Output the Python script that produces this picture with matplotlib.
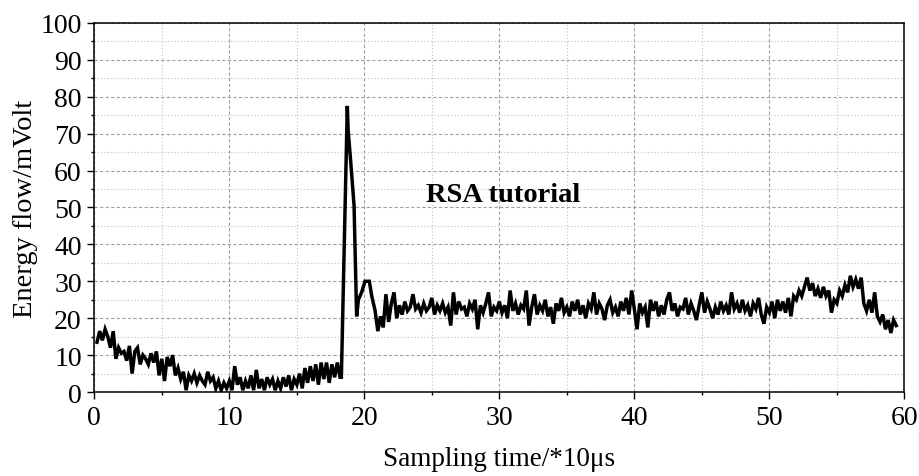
import numpy as np
import matplotlib.pyplot as plt
from matplotlib.ticker import MultipleLocator

plt.rcParams['font.family'] = ['Liberation Serif', 'DejaVu Serif']

# baseline before the pulse, sampled every 0.2 (x = 0.2 ... 18.2)
t_pre = np.round(np.arange(0.2, 18.21, 0.2), 1)
v_pre = [13.5, 16.5, 14, 17, 15,
         12, 16.5, 9, 12, 10.5,
         11, 8.5, 12.5, 5, 11,
         12, 7.5, 10, 9, 7.5,
         10.5, 8, 11, 4.5, 9,
         3, 9.5, 7, 10, 4.5,
         6.5, 3.5, 5.5, 0.5, 4.5,
         3, 5, 2.5, 4.5, 3,
         2, 5.5, 3, 4, 1,
         3, 0.5, 2.5, 1, 3,
         0.5, 7, 2, 4, 0.5,
         3, 1, 4.5, 0.5, 6,
         1, 3.5, 0.5, 4, 2,
         3.5, 0.5, 3, 1, 4,
         1.5, 4.5, 0.5, 3.5, 2,
         5, 1, 6.5, 2.5, 7,
         3, 7.5, 2, 8, 3.5,
         8, 2.5, 7.5, 4, 8,
         4]

# the pulse itself
t_peak = [18.3, 18.74, 18.8, 19.0, 19.24, 19.43, 19.56, 19.8, 20.05, 20.37, 20.55, 20.8]
v_peak = [4, 77.5, 71, 62, 50.5, 20.5, 25, 27, 30, 30, 26, 22]

# after the pulse, sampled every 0.2 (x = 21.0 ... 59.4)
t_post = np.round(np.arange(21.0, 59.41, 0.2), 1)
v_post = [16.5, 20.5, 17.5, 26.5, 19,
          24, 27, 20, 23.5, 21,
          24.5, 22, 23, 26.5, 22.5,
          23.5, 21.5, 24, 22, 23,
          25.5, 21, 23.5, 22, 24,
          21.5, 23, 18, 27, 21,
          24.5, 22.5, 23, 20.5, 24,
          22.5, 25, 17, 23.5, 21.5,
          24, 27, 20.5, 23, 22,
          24.5, 21.5, 23.5, 20, 27.5,
          22, 24, 21, 23.5, 22.5,
          27.5, 18, 23, 26.5, 21,
          23.5, 22, 25, 20.5, 23,
          18.5, 24, 22, 25.5, 21.5,
          23, 20.5, 24.5, 22, 25,
          21, 23.5, 20, 24, 22.5,
          27, 21, 24, 22.5, 19.5,
          23.5, 25, 21.5, 23, 20.5,
          24.5, 22, 25.5, 21, 27.5,
          22.5, 17, 24, 21.5, 23,
          17.5, 25, 22, 24.5, 20.5,
          23.5, 21, 25, 27, 22,
          24, 20.5, 23, 22.5, 25.5,
          21, 24, 22, 19.5, 23.5,
          27, 21.5, 24.5, 22.5, 20,
          23, 21, 24.5, 22, 23.5,
          21, 27, 22.5, 24, 21.5,
          25, 22, 23.5, 20.5, 24,
          22.5, 25.5, 21, 18.5, 23,
          21.5, 24.5, 20, 25, 22,
          24.5, 21.5, 25.5, 20.5, 26,
          25, 27.5, 26, 28.5, 31,
          27.5, 29.5, 26, 28, 25.5,
          28.5, 26, 27.5, 21.5, 25,
          24, 27.5, 26, 29, 27,
          31.5, 28.5, 30.5, 28, 31,
          24, 22, 25, 21.5, 27,
          20.5, 19, 21, 17, 19.5,
          16, 19.5, 18]

t = np.concatenate([t_pre, t_peak, t_post])
v = np.concatenate([v_pre, v_peak, v_post])

fig = plt.figure(figsize=(9.2, 4.77), dpi=100)
ax = fig.add_axes([0.1025, 0.176, 0.8805, 0.774])

ax.plot(t, v, color='black', linewidth=2.5, solid_joinstyle='miter')

ax.set_xlim(0, 60)
ax.set_ylim(0, 100)
ax.xaxis.set_major_locator(MultipleLocator(10))
ax.xaxis.set_minor_locator(MultipleLocator(5))
ax.yaxis.set_major_locator(MultipleLocator(10))
ax.yaxis.set_minor_locator(MultipleLocator(5))

ax.grid(which='major', color='#a0a0a0', linestyle=(0, (3, 2)), linewidth=0.8)
ax.grid(which='minor', color='#c0c0c0', linestyle=(0, (1, 2)), linewidth=0.8)
ax.set_axisbelow(True)

ax.tick_params(which='major', direction='out', length=5, width=1, labelsize=20, pad=4)
ax.tick_params(which='minor', direction='out', length=2.5, width=1)
for s in ax.spines.values():
    s.set_linewidth(1.1)

ax.set_xlabel('Sampling time/*10μs', fontsize=19.5, labelpad=12)
ax.set_ylabel('Energy flow/mVolt', fontsize=20.5, labelpad=2)

ax.text(30.3, 53.5, 'RSA tutorial', fontsize=20.5, fontweight='bold',
        ha='center', va='center')

fig.savefig('out.png', dpi=100)
